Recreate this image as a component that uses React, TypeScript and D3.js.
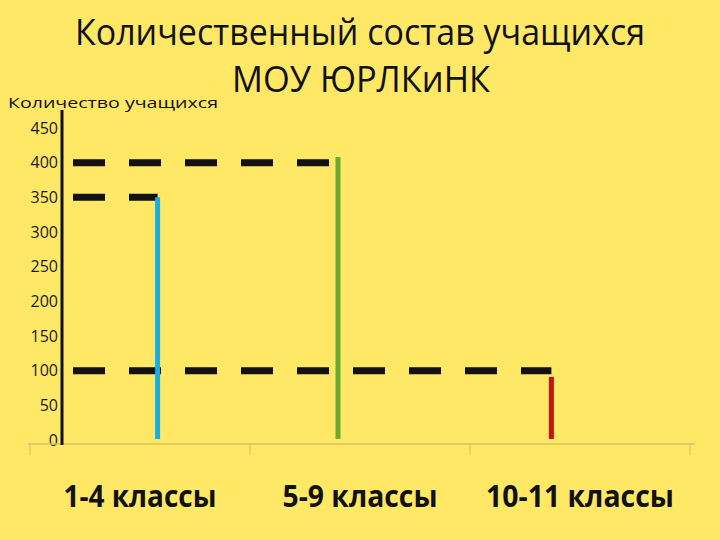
import * as d3 from 'd3';
import React from 'react';

const titleLines = ['Количественный состав учащихся', 'МОУ ЮРЛКиНК'];
const yTitle = 'Количество учащихся';
const categories = ['1-4 классы', '5-9 классы', '10-11 классы'];
// pupils per group (top of each coloured line)
const pupils = [350, 408, 91];
// level of the dashed guide drawn to each line
const guideLevels = [350, 400, 100];
// where the line stands inside the category axis (0..3)
const linePos = [0.58, 1.4, 2.37];
const lineColors = ['#1aade0', '#6aaa2e', '#c8121a'];
const yTicks = [0, 50, 100, 150, 200, 250, 300, 350, 400, 450];

const W = 720;
const H = 540;
const FONT = "'Open Sans', 'DejaVu Sans', sans-serif";

const App = () => {
  const x = d3.scaleLinear().domain([0, categories.length]).range([30, 690]);
  const y = d3.scaleLinear().domain([0, 450]).range([440, 128]);
  const axisX = 62;

  return (
    <div style={{ position: 'fixed', left: 0, top: 0, width: W, height: H }}>
      <svg width={W} height={H} style={{ display: 'block' }}>
        <rect width={W} height={H} fill="#ffe866" />

        {/* title */}
        <text x={360} y={45} textAnchor="middle" fontFamily={FONT} fontSize={37}
          fill="#111" textLength={570} lengthAdjust="spacingAndGlyphs">
          {titleLines[0]}
        </text>
        <text x={361} y={92} textAnchor="middle" fontFamily={FONT} fontSize={37}
          fill="#111" textLength={258} lengthAdjust="spacingAndGlyphs">
          {titleLines[1]}
        </text>

        <text x={8} y={108} fontFamily={FONT} fontSize={15} fill="#111"
          textLength={210} lengthAdjust="spacingAndGlyphs">
          {yTitle}
        </text>

        {/* y tick labels */}
        {yTicks.map((t) => (
          <text key={t} x={58} y={y(t) + 5.5} textAnchor="end" fontFamily={FONT}
            fontSize={16} fill="#1a1a1a">
            {t}
          </text>
        ))}

        {/* base line and category ticks */}
        <line x1={x(0) - 2} x2={x(categories.length) + 5} y1={y(0) + 4} y2={y(0) + 4}
          stroke="#d6c462" strokeWidth={1.5} />
        {d3.range(categories.length + 1).map((i) => (
          <line key={i} x1={x(i)} x2={x(i)} y1={y(0) + 4} y2={y(0) + 15}
            stroke="#d6c462" strokeWidth={1} />
        ))}

        {/* dashed guides */}
        {guideLevels.map((v, i) => (
          <line key={i} x1={axisX + 11} x2={x(linePos[i])} y1={y(v)} y2={y(v)}
            stroke="#111" strokeWidth={7} strokeDasharray="32 24" />
        ))}

        {/* coloured lines */}
        {pupils.map((v, i) => (
          <line key={i} x1={x(linePos[i])} x2={x(linePos[i])} y1={y(v)} y2={y(0) - 1}
            stroke={lineColors[i]} strokeWidth={5} />
        ))}

        {/* y axis */}
        <line x1={axisX} x2={axisX} y1={y(0) + 5} y2={y(476)} stroke="#111" strokeWidth={3} />

        {/* category labels */}
        {categories.map((c, i) => (
          <text key={c} x={x(i + 0.5)} y={507} textAnchor="middle" fontFamily={FONT}
            fontWeight="bold" fontSize={30} fill="#111"
            textLength={[153, 155, 188][i]} lengthAdjust="spacingAndGlyphs">
            {c}
          </text>
        ))}
      </svg>
    </div>
  );
};

export default App;
